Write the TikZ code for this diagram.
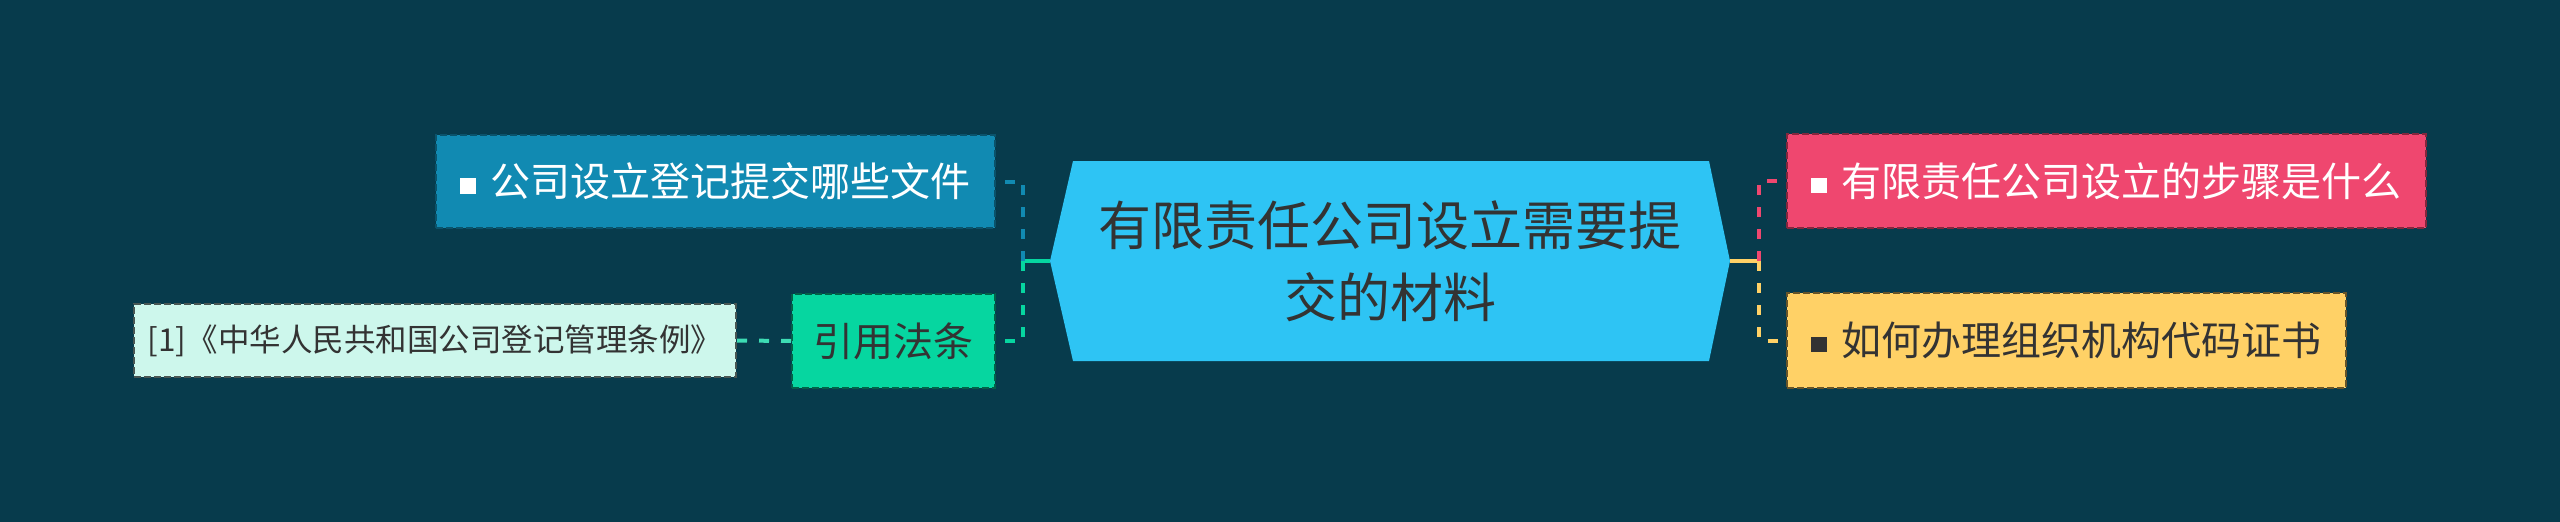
\documentclass[tikz,border=0pt]{standalone}
\usepackage{fontspec}
\setmainfont{Noto Sans CJK SC}
\definecolor{bg}{HTML}{073B4C}
\definecolor{cblue}{HTML}{118AB2}
\definecolor{cpink}{HTML}{EF476F}
\definecolor{cyel}{HTML}{FFD166}
\definecolor{cgreen}{HTML}{06D6A0}
\definecolor{cmint}{HTML}{CDF7EC}
\definecolor{ccenter}{HTML}{2EC4F4}
\definecolor{ctext}{HTML}{333333}
\definecolor{cline}{HTML}{3DDCB4}
\newcommand{\sqmark}{\rule[0.08em]{0.38em}{0.38em}\hspace{0.38em}}
\begin{document}
\begin{tikzpicture}[x=1pt,y=-1pt,
  box/.style={rectangle, inner sep=0pt, line width=2pt, dash pattern=on 7pt off 3pt,
    font=\fontsize{40}{48}\selectfont},
  conn/.style={line width=4pt, dash pattern=on 10pt off 12pt},
  solidconn/.style={line width=4pt}]
\fill[bg] (0,0) rectangle (2560,522);
\useasboundingbox (0,0) rectangle (2560,522);
% central topic
\fill[ccenter] (1050,261) -- (1073,161) -- (1709,161) -- (1730,261) -- (1709,361) -- (1073,361) -- cycle;
\node[inner sep=0pt, minimum width=680, minimum height=200, align=center, text=ctext,
  font=\fontsize{53}{72}\selectfont] (c) at (1390,261) {有限责任公司设立需要提\\交的材料};
% left branches
\node[box, fill=cblue, draw=cblue!60!black, text=white, minimum width=559, minimum height=93]
  (b1) at (715.5,181.5) {\sqmark 公司设立登记提交哪些文件};
\node[box, fill=cgreen, draw=cgreen!45!black, text=ctext, minimum width=203, minimum height=94]
  (b2) at (893.5,341) {引用法条};
\node[box, fill=cmint, draw=cmint!35!black, text=ctext, minimum width=602, minimum height=73,
  font=\fontsize{31.5}{38}\selectfont]
  (b3) at (435,340.5) {[1]《中华人民共和国公司登记管理条例》};
% right branches
\node[box, fill=cpink, draw=cpink!55!black, text=white, minimum width=639, minimum height=94]
  (p1) at (2106.5,181) {\sqmark 有限责任公司设立的步骤是什么};
\node[box, fill=cyel, draw=cyel!40!black, text=ctext, minimum width=559, minimum height=95]
  (p2) at (2066.5,340.5) {\sqmark 如何办理组织机构代码证书};
% junctions
\coordinate (jl) at (1023,261);
\coordinate (jr) at (1759,261);
% connectors
\draw[solidconn, cgreen] (c.west) -- (jl);
\draw[conn, cblue] (jl) |- (b1.east);
\draw[conn, cgreen] (jl) |- (b2.east);
\draw[conn, cline] (b2.west) -- (b3.east);
\draw[solidconn, cyel] (c.east) -- (jr);
\draw[conn, cpink] (jr) |- (p1.west);
\draw[conn, cyel] (jr) |- (p2.west);
\end{tikzpicture}
\end{document}
